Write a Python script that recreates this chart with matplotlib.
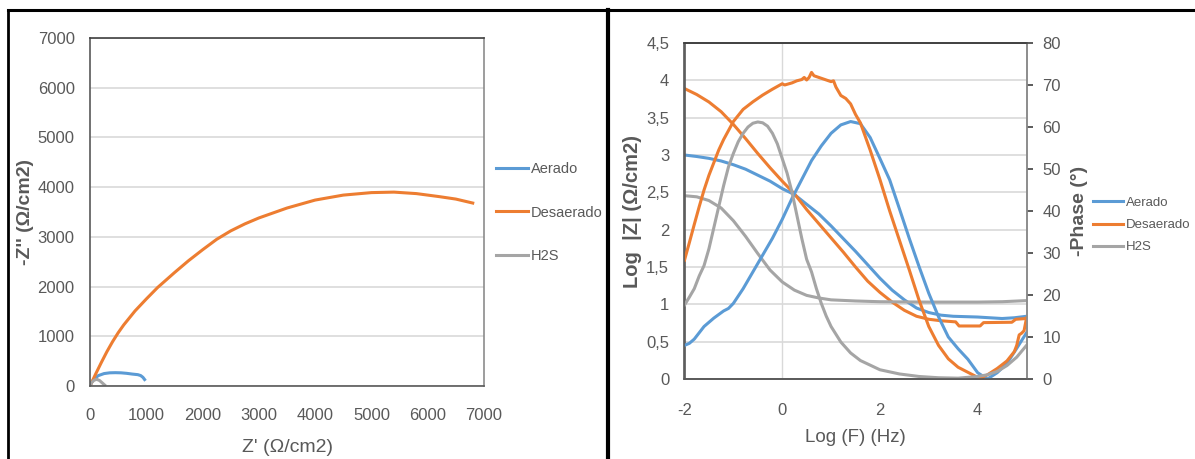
import matplotlib
matplotlib.use("Agg")
import matplotlib.pyplot as plt
from matplotlib.lines import Line2D
from matplotlib.ticker import FuncFormatter, MultipleLocator

plt.rcParams['font.family'] = ['Liberation Sans Narrow', 'Liberation Sans', 'DejaVu Sans']
plt.rcParams['axes.unicode_minus'] = False

# colours of the Excel default palette
c_aer = '#5B9BD5'
c_des = '#ED7D31'
c_h2s = '#A5A5A5'
txt = '#595959'

# Nyquist data (Z', -Z'')
nyq_aer_x = [0, 30, 80, 150, 250, 350, 450, 550, 650, 750, 850, 900, 940, 970]
nyq_aer_y = [0, 80, 150, 210, 250, 265, 268, 265, 255, 240, 228, 210, 175, 130]
nyq_des_x = [0, 50, 100, 200, 300, 400, 500, 600, 800, 1000, 1200, 1500, 1750, 2000, 2250, 2500,
             2750, 3000, 3500, 4000, 4500, 5000, 5400, 5800, 6200, 6500, 6800]
nyq_des_y = [0, 120, 240, 470, 690, 890, 1070, 1230, 1510, 1750, 1980, 2280, 2520, 2740, 2950, 3120,
             3260, 3380, 3580, 3740, 3840, 3890, 3900, 3870, 3810, 3760, 3680]
nyq_h2s_x = [0, 30, 70, 120, 170, 220, 260]
nyq_h2s_y = [0, 70, 115, 135, 110, 60, 20]

# Bode |Z|
bz_aer_f = [-2, -1.75, -1.5, -1.25, -1, -0.75, -0.5, -0.25, 0, 0.25, 0.5, 0.75, 1, 1.25, 1.5,
            1.75, 2, 2.25, 2.5, 2.75, 3, 3.25, 3.5, 3.75, 4, 4.25, 4.5, 4.75, 5]
bz_aer_z = [3.00, 2.98, 2.955, 2.92, 2.87, 2.81, 2.73, 2.65, 2.55, 2.47, 2.34, 2.21, 2.05, 1.88, 1.71,
            1.53, 1.35, 1.19, 1.06, 0.95, 0.89, 0.855, 0.84, 0.835, 0.83, 0.82, 0.81, 0.82, 0.84]
bz_des_f = [-2, -1.75, -1.5, -1.25, -1, -0.75, -0.5, -0.25, 0, 0.25, 0.5, 0.75, 1, 1.25, 1.5,
            1.75, 2, 2.25, 2.5, 2.75, 3, 3.25, 3.55, 3.62, 4.05, 4.12, 4.7, 4.78, 5]
bz_des_z = [3.89, 3.81, 3.71, 3.58, 3.41, 3.22, 3.02, 2.83, 2.65, 2.48, 2.27, 2.08, 1.89, 1.70, 1.50,
            1.31, 1.16, 1.03, 0.92, 0.84, 0.80, 0.78, 0.765, 0.71, 0.71, 0.755, 0.76, 0.80, 0.81]
bz_h2s_f = [-2, -1.75, -1.5, -1.25, -1, -0.75, -0.5, -0.25, 0, 0.25, 0.5, 0.75, 1, 1.5, 2, 3, 4, 4.5, 5]
bz_h2s_z = [2.455, 2.44, 2.39, 2.29, 2.12, 1.91, 1.68, 1.46, 1.30, 1.19, 1.12, 1.085, 1.06, 1.045,
            1.035, 1.03, 1.03, 1.035, 1.05]

# Bode phase (degrees)
ph_aer_f = [-2, -1.9, -1.8, -1.6, -1.4, -1.2, -1.1, -1.0, -0.8, -0.6, -0.4, -0.2, 0, 0.2, 0.4, 0.6,
            0.8, 1.0, 1.2, 1.4, 1.6, 1.8, 2.0, 2.2, 2.4, 2.6, 2.8, 3.0, 3.2, 3.4, 3.6, 3.8, 4.0,
            4.2, 4.4, 4.6, 4.8, 5.0]
ph_aer_p = [8.0, 8.5, 9.5, 12.5, 14.5, 16.2, 16.8, 18.0, 21.5, 25.5, 29.5, 33.5, 38.0, 43, 47.5, 52,
            55.5, 58.5, 60.5, 61.3, 60.8, 57.5, 52.5, 47.4, 40.5, 33.5, 26.8, 20.4, 14.8, 10.0, 7.2,
            4.7, 1.5, 0.0, 1.5, 3.7, 7.3, 11.0]
ph_des_f = [-2, -1.9, -1.8, -1.7, -1.6, -1.5, -1.4, -1.3, -1.2, -1.0, -0.8, -0.6, -0.4, -0.2, 0,
            0.05, 0.2, 0.3, 0.4, 0.45, 0.5, 0.55, 0.6, 0.65, 0.7, 0.8, 0.9, 1.0, 1.05, 1.1, 1.2,
            1.3, 1.4, 1.5, 1.6, 1.8, 2.0, 2.2, 2.4, 2.6, 2.8, 3.0, 3.2, 3.4, 3.6, 3.8, 4.0, 4.05,
            4.2, 4.4, 4.6, 4.75, 4.8, 4.85, 4.9, 4.95, 5.0]
ph_des_p = [28.3, 32.5, 36.8, 41, 45, 48.5, 51.5, 54.5, 57, 61.3, 64.2, 66, 67.6, 69, 70.3,
            70.0, 70.5, 71, 71.3, 71.8, 71.2, 71.8, 73.0, 72.2, 72.0, 71.6, 71.2, 70.8, 71, 69.5, 67.5,
            66.8, 65.5, 63, 61, 54.5, 47.5, 40, 33, 26, 18.8, 12.5, 8, 4.8, 2.8, 1.6, 0.4, 0.2,
            1.0, 2.5, 4.3, 6.5, 8.0, 10.5, 10.9, 11.5, 14.5]
ph_h2s_f = [-2, -1.9, -1.8, -1.7, -1.6, -1.5, -1.4, -1.3, -1.2, -1.1, -1.0, -0.9, -0.8, -0.7, -0.6,
            -0.5, -0.4, -0.3, -0.2, -0.1, 0, 0.1, 0.2, 0.3, 0.4, 0.5, 0.6, 0.7, 0.8, 0.9, 1.0, 1.2,
            1.4, 1.6, 1.8, 2.0, 2.4, 2.8, 3.2, 3.6, 4.0, 4.2, 4.4, 4.6, 4.8, 5.0]
ph_h2s_p = [17.6, 19.5, 21.5, 24.5, 27, 31, 36, 41, 46, 50.5, 53.7, 56.5, 58.5, 60, 60.9,
            61.2, 61, 60.2, 58.5, 56, 52.5, 49, 44.5, 39, 33.5, 28.5, 25.5, 21.5, 18, 15, 12.5, 8.8,
            6.2, 4.4, 3.3, 2.2, 1.2, 0.6, 0.3, 0.2, 0.6, 1.0, 1.8, 3.2, 5.2, 8.0]

labels = ['Aerado', 'Desaerado', 'H2S']

W, H = 1195, 459
fig = plt.figure(figsize=(W / 100, H / 100), dpi=100)


def px_axes(x0, y0, x1, y1):
    # pixel box (top-left origin) -> figure fraction
    return [x0 / W, 1 - y1 / H, (x1 - x0) / W, (y1 - y0) / H]


def style_box(ax):
    for s in ['left', 'bottom']:
        ax.spines[s].set_color('#595959')
        ax.spines[s].set_linewidth(1.2)
    ax.spines['top'].set_color('#404040')
    ax.spines['top'].set_linewidth(1.2)
    ax.spines['right'].set_color('#8c8c8c')
    ax.spines['right'].set_linewidth(1.2)


lw = 2.2
tick_fs = 12
leg_fs = 10.5

# ---- Nyquist ----
ax1 = fig.add_axes(px_axes(90, 38, 484, 386))
ax1.plot(nyq_aer_x, nyq_aer_y, color=c_aer, lw=lw, label=labels[0])
ax1.plot(nyq_des_x, nyq_des_y, color=c_des, lw=lw, label=labels[1])
ax1.plot(nyq_h2s_x, nyq_h2s_y, color=c_h2s, lw=lw, label=labels[2])
ax1.set_xlim(0, 7000)
ax1.set_ylim(0, 7000)
ax1.xaxis.set_major_locator(MultipleLocator(1000))
ax1.yaxis.set_major_locator(MultipleLocator(1000))
ax1.grid(axis='y', color='#d9d9d9', lw=1.2)
ax1.set_axisbelow(True)
ax1.tick_params(length=0, labelsize=tick_fs, labelcolor=txt)
ax1.tick_params(axis='y', pad=11)
ax1.tick_params(axis='x', pad=16)
style_box(ax1)
ax1.set_xlabel("Z' (Ω/cm2)", fontsize=14, color=txt, va='center')
ax1.xaxis.set_label_coords(0.5, (386 - 447) / 348)
ax1.set_ylabel("-Z'' (Ω/cm2)", fontsize=14, fontweight='bold', color=txt, va='center')
ax1.yaxis.set_label_coords((26 - 90) / 394, 0.5)
leg1 = ax1.legend(loc='center left', bbox_to_anchor=(496 / W, 1 - 212.5 / H),
                  bbox_transform=fig.transFigure, frameon=False, fontsize=leg_fs,
                  handlelength=2.2, handletextpad=0.2, labelspacing=2.0,
                  borderpad=0, borderaxespad=0)
for t in leg1.get_texts():
    t.set_color(txt)

# ---- Bode ----
ax2 = fig.add_axes(px_axes(684.5, 43, 1026.5, 379))
ax3 = ax2.twinx()
ax2.plot(bz_aer_f, bz_aer_z, color=c_aer, lw=lw)
ax2.plot(bz_des_f, bz_des_z, color=c_des, lw=lw)
ax2.plot(bz_h2s_f, bz_h2s_z, color=c_h2s, lw=lw)
ax3.plot(ph_aer_f, ph_aer_p, color=c_aer, lw=lw, label=labels[0])
ax3.plot(ph_des_f, ph_des_p, color=c_des, lw=lw, label=labels[1])
ax3.plot(ph_h2s_f, ph_h2s_p, color=c_h2s, lw=lw, label=labels[2])
ax2.set_xlim(-2, 5)
ax2.set_ylim(0, 4.5)
ax3.set_ylim(0, 80)
ax2.xaxis.set_major_locator(MultipleLocator(2))
ax2.yaxis.set_major_locator(MultipleLocator(0.5))
ax3.yaxis.set_major_locator(MultipleLocator(10))
ax2.yaxis.set_major_formatter(FuncFormatter(lambda v, p: f"{v:g}".replace('.', ',')))
ax2.grid(axis='y', color='#d9d9d9', lw=1.2)
ax2.axvline(0, color='#d9d9d9', lw=1.0, zorder=0)
ax2.set_axisbelow(True)
ax2.tick_params(length=0, labelsize=tick_fs, labelcolor=txt)
ax2.tick_params(axis='y', pad=11)
ax2.tick_params(axis='x', pad=17)
ax3.tick_params(axis='y', length=4, width=1.2, color='#404040', pad=7.5, labelsize=tick_fs, labelcolor=txt)
style_box(ax2)
style_box(ax3)
ax2.set_xlabel("Log (F) (Hz)", fontsize=13.5, color=txt, va='center')
ax2.xaxis.set_label_coords(0.5, (379 - 437) / 336)
ax2.set_ylabel("Log  |Z| (Ω/cm2)", fontsize=14.5, fontweight='bold', color=txt, va='center')
ax2.yaxis.set_label_coords((633 - 684.5) / 342, 0.5)
ax3.set_ylabel("-Phase (°)", fontsize=14, fontweight='bold', color=txt, va='center', rotation=90)
ax3.yaxis.set_label_coords((1079 - 684.5) / 342, 0.5)
# right legend sits against the picture edge, so slightly smaller text
leg2 = ax3.legend(loc='center left', bbox_to_anchor=(1093 / W, 1 - 225 / H),
                  bbox_transform=fig.transFigure, frameon=False, fontsize=9.5,
                  handlelength=2.3, handletextpad=0.2, labelspacing=0.75,
                  borderpad=0, borderaxespad=0)
for t in leg2.get_texts():
    t.set_color(txt)

# black frame of the composite picture
for xs, ys, w in [([8, 1195], [10, 10], 2.2), ([8, 8], [10, 459], 2.0), ([608, 608], [10, 459], 3.0)]:
    fig.add_artist(Line2D([x / W for x in xs], [1 - y / H for y in ys], color='black', lw=w))

fig.savefig('out.png', dpi=100)
